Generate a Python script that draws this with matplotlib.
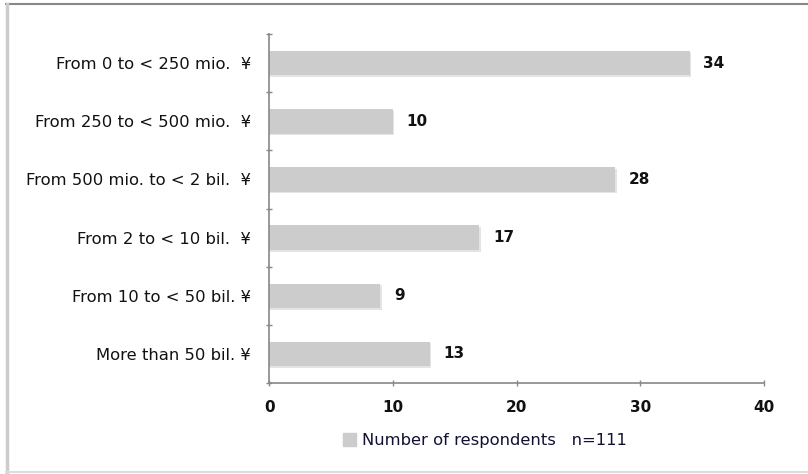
import matplotlib
matplotlib.use("Agg")
import matplotlib.pyplot as plt
from matplotlib.lines import Line2D
from matplotlib.patches import Patch

categories = ["From 0 to < 250 mio.  ¥", "From 250 to < 500 mio.  ¥",
              "From 500 mio. to < 2 bil.  ¥", "From 2 to < 10 bil.  ¥",
              "From 10 to < 50 bil. ¥", "More than 50 bil. ¥"]
values = [34, 10, 28, 17, 9, 13]
xticks = [0, 10, 20, 30, 40]
legend_label = "Number of respondents   n=111"

plt.rcParams['font.family'] = ['DejaVu Sans']
fs = 11.8
fig = plt.figure(figsize=(8.08, 4.74), dpi=100)
ax = fig.add_axes([0.333, 0.192, 0.6125, 0.736])

ypos = list(range(len(categories)))
bar_color = "#cccccc"
# shadow
ax.barh([y + 0.03 for y in ypos], [v + 0.12 for v in values], height=0.42,
        color="#e4e4e4", zorder=1)
ax.barh(ypos, values, height=0.42, color=bar_color, zorder=2)
for y, v in zip(ypos, values):
    ax.text(v + 1.1, y, str(v), va="center", ha="left", fontsize=11,
            fontweight="bold", color="#111111")

ax.set_xlim(0, 40)
ax.set_ylim(len(categories) - 0.5, -0.5)
ax.set_xticks(xticks)
ax.set_xticklabels([str(t) for t in xticks], fontsize=11, fontweight="bold", color="#111111")
ax.set_yticks([y - 0.5 for y in ypos] + [len(categories) - 0.5])
ax.set_yticklabels([])
ax.set_yticks(ypos, minor=True)
ax.set_yticklabels(categories, minor=True, fontsize=fs, color="#111111")
ax.tick_params(axis="y", which="minor", length=0, pad=13)
ax.tick_params(axis="y", which="major", length=5, direction="inout", color="#888888", width=1)
ax.tick_params(axis="x", length=5, direction="inout", color="#888888", width=1, pad=10)
for s in ["top", "right"]:
    ax.spines[s].set_visible(False)
for s in ["left", "bottom"]:
    ax.spines[s].set_color("#888888")
    ax.spines[s].set_linewidth(1.2)

leg = fig.legend(handles=[Patch(color=bar_color)], labels=[legend_label],
                 loc="center", bbox_to_anchor=(0.60, 0.07), frameon=False,
                 fontsize=fs, handlelength=0.8, handleheight=0.8, handletextpad=0.4)
for t in leg.get_texts():
    t.set_color("#111133")

# outer frame lines
fig.add_artist(Line2D([0.008, 1.0], [0.991, 0.991], transform=fig.transFigure, color="#888888", lw=1.5))
fig.add_artist(Line2D([0.009, 0.009], [0.0, 0.991], transform=fig.transFigure, color="#cccccc", lw=2.5))
fig.add_artist(Line2D([0.008, 1.0], [0.004, 0.004], transform=fig.transFigure, color="#dddddd", lw=1.5))

fig.savefig("out.png", dpi=100)
